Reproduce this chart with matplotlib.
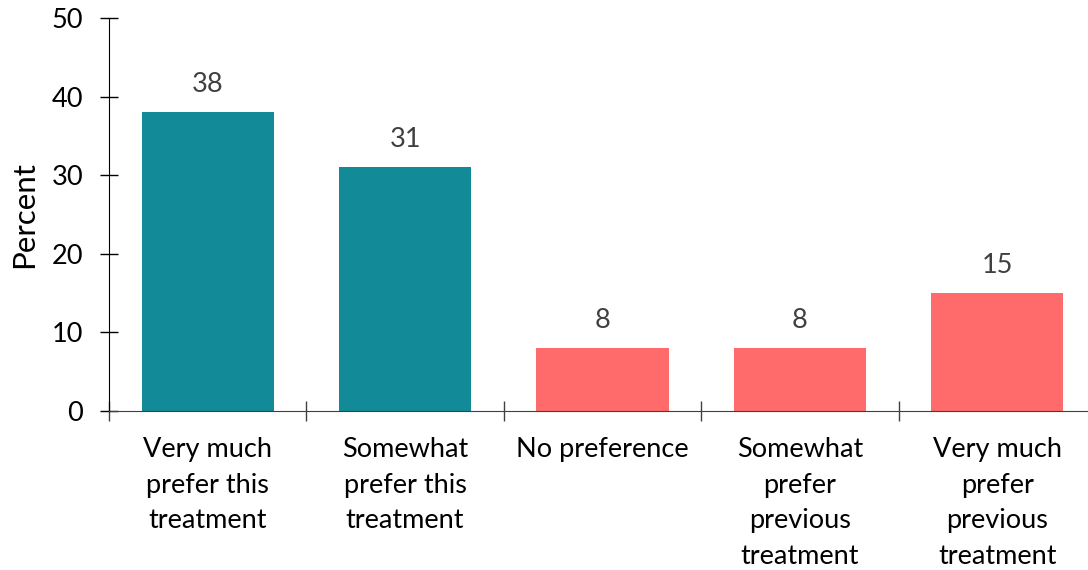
import matplotlib
matplotlib.use('Agg')
import matplotlib.pyplot as plt
import matplotlib.ticker as mticker
import numpy as np

plt.rcParams['font.family'] = ['Lato', 'DejaVu Sans']

CATEGORIES = [
    'Very much\nprefer this\ntreatment',
    'Somewhat\nprefer this\ntreatment',
    'No preference',
    'Somewhat\nprefer\nprevious\ntreatment',
    'Very much\nprefer\nprevious\ntreatment',
]
PERCENT = [38, 31, 8, 8, 15]
BAR_COLORS = ['#138A98', '#138A98', '#FF6B6B', '#FF6B6B', '#FF6B6B']

fig = plt.figure(figsize=(10.88, 5.70), dpi=100)
# the category axis runs a little past the right edge of the figure
ax = fig.add_axes([109 / 1088, 1 - 411 / 570, (1096 - 109) / 1088, (411 - 18) / 570])

x = np.arange(len(CATEGORIES))
bars = ax.bar(x, PERCENT, width=0.67, color=BAR_COLORS)

for bar, val in zip(bars, PERCENT):
    ax.annotate(f'{val}', (bar.get_x() + bar.get_width() / 2, val),
                xytext=(0, 11), textcoords='offset points',
                ha='center', va='bottom', fontsize=19.5, color='#404040')

ax.set_ylim(0, 50)
ax.set_xlim(-0.5, 4.5)
ax.yaxis.set_major_locator(mticker.MultipleLocator(10))
ax.tick_params(axis='y', direction='inout', length=13, width=1,
               labelsize=19.5, pad=12, colors='black')

ax.set_xticks(x)
ax.set_xticklabels(CATEGORIES, fontsize=19.5, linespacing=1.52, va='top')
ax.tick_params(axis='x', which='major', length=0, pad=19)
ax.set_xticks(np.arange(-0.5, len(CATEGORIES)), minor=True)
ax.tick_params(axis='x', which='minor', direction='inout', length=14,
               width=1, color='#404040')

ax.set_ylabel('Percent', fontsize=22.5, labelpad=10)

for side in ('top', 'right'):
    ax.spines[side].set_visible(False)
ax.spines['left'].set_color('black')
ax.spines['bottom'].set_color('#404040')

fig.savefig('out.png', dpi=100)
